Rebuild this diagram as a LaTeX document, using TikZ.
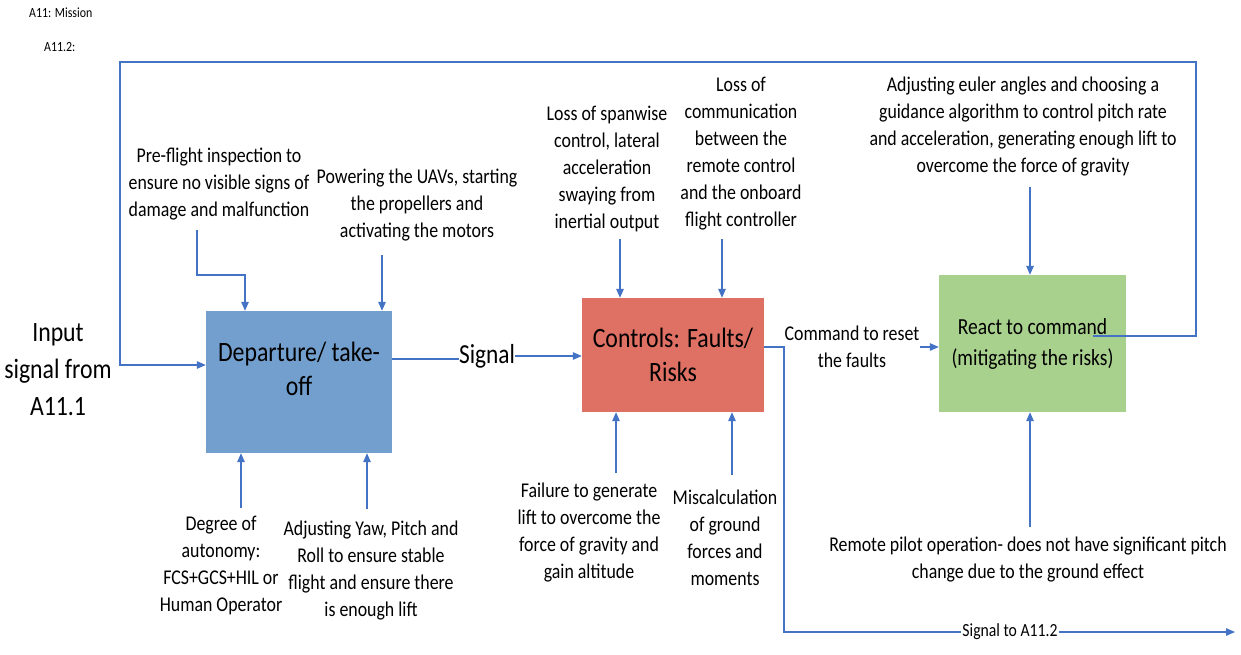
\documentclass[tikz,border=0pt]{standalone}
\usepackage{fontspec}
\setmainfont[FakeStretch=0.85]{Carlito}
\usetikzlibrary{arrows.meta}
\definecolor{linkblue}{RGB}{68,114,196}
\definecolor{depblue}{RGB}{115,159,206}
\definecolor{ctlred}{RGB}{222,112,100}
\definecolor{reactgreen}{RGB}{169,209,142}
\tikzset{
  conn/.style={draw=linkblue, line width=1.3pt},
  arrow/.style={conn, -{Triangle[length=9pt,width=7.5pt]}},
  note/.style={align=center, inner sep=0pt, font=\fontsize{21}{27}\selectfont},
  box/.style={draw=none, inner sep=0pt, align=center, font=\fontsize{28}{34.5}\selectfont},
  bigtext/.style={align=center, inner sep=0pt, font=\fontsize{28}{37}\selectfont},
  tag/.style={anchor=west, inner sep=0pt, font=\fontsize{14}{16}\selectfont}
}
\begin{document}
\begin{tikzpicture}[x=1pt,y=-1pt]
\useasboundingbox (0,0) rectangle (1241,655);

% header tags
\node[tag] (tmission) at (29,13) {A11: Mission};
\node[tag] (tsub) at (44,47) {A11.2:};

% process boxes
\node[box, fill=depblue, minimum width=186, minimum height=142] (dep) at (299,382) {};
\node[box] (deplbl) at (299,369) {Departure/ take-\\off};
\node[box, fill=ctlred, minimum width=182, minimum height=114] (ctl) at (673,355) {Controls: Faults/\\Risks};
\node[box, fill=reactgreen, minimum width=187, minimum height=137, font=\fontsize{23}{31}\selectfont] (rc) at (1032.5,343.5) {React to command\\(mitigating the risks)};

% external input
\node[bigtext] (inp) at (58,370) {Input\\signal from\\A11.1};

% annotations: controls / mechanisms
\node[note] (pf) at (219,184) {Pre-flight inspection to\\ensure no visible signs of\\damage and malfunction};
\node[note] (pw) at (417,205) {Powering the UAVs, starting\\the propellers and\\activating the motors};
\node[note] (deg) at (221,565) {Degree of\\autonomy:\\FCS+GCS+HIL or\\Human Operator};
\node[note] (yaw) at (371,571) {Adjusting Yaw, Pitch and\\Roll to ensure stable\\flight and ensure there\\is enough lift};
\node[note] (span) at (607,169) {Loss of spanwise\\control, lateral\\acceleration\\swaying from\\inertial output};
\node[note] (comm) at (741,153.5) {Loss of\\communication\\between the\\remote control\\and the onboard\\flight controller};
\node[note] (fail) at (589,532.5) {Failure to generate\\lift to overcome the\\force of gravity and\\gain altitude};
\node[note] (misc) at (725,537.5) {Miscalculation\\of ground\\forces and\\moments};
\node[note] (euler) at (1023,126.5) {Adjusting euler angles and choosing a\\guidance algorithm to control pitch rate\\and acceleration, generating enough lift to\\overcome the force of gravity};
\node[note] (pilot) at (1028,560) {Remote pilot operation- does not have significant pitch\\change due to the ground effect};
\node[note] (cmd) at (852,346.5) {Command to reset\\the faults};
\node[inner sep=0pt, font=\fontsize{27.5}{30}\selectfont] (sig) at (487,356) {Signal};
\node[inner sep=1pt, font=\fontsize{18.5}{20}\selectfont, fill=white] (s2) at (1010,632) {Signal to A11.2};

% bend points
\coordinate (fb0) at (1093,336);
\coordinate (fb1) at (1196,336);
\coordinate (fb2) at (1196,62);
\coordinate (fb3) at (120,62);
\coordinate (fb4) at (120,365);
\coordinate (pfa) at (197,230);
\coordinate (pfb) at (245,275);
\coordinate (pwa) at (382,255);
\coordinate (dga) at (241,508);
\coordinate (yaa) at (367,509);
\coordinate (spa) at (620,239);
\coordinate (cma) at (722,239);
\coordinate (fla) at (616,473);
\coordinate (msa) at (732,475);
\coordinate (eua) at (1030,187);
\coordinate (pia) at (1030,527);
\coordinate (out1) at (784,347);
\coordinate (out2) at (784,632);
\coordinate (out3) at (1235,632);
\coordinate (sg1) at (392,359);

% feedback loop from the reaction back to departure
\draw[arrow] (fb0) -- (fb1) -- (fb2) -- (fb3) -- (fb4) -- (fb4 -| dep.west);

% inputs to departure
\draw[arrow] (pfa) |- (pfb) -- (pfb |- dep.north);
\draw[arrow] (pwa) -- (pwa |- dep.north);
\draw[arrow] (dga) -- (dga |- dep.south);
\draw[arrow] (yaa) -- (yaa |- dep.south);

% signal between departure and controls
\draw[conn] (sg1) -- (sig.west |- sg1);
\draw[arrow] (sig.east) -- (sig.east -| ctl.west);

% inputs to controls
\draw[arrow] (spa) -- (spa |- ctl.north);
\draw[arrow] (cma) -- (cma |- ctl.north);
\draw[arrow] (fla) -- (fla |- ctl.south);
\draw[arrow] (msa) -- (msa |- ctl.south);

% command to the reaction block
\draw[arrow] (cmd.east |- out1) -- (rc.west |- out1);

% outgoing signal
\draw[conn] (out1 -| ctl.east) -- (out1) -- (out2) -- (s2.west);
\draw[arrow] (s2.east) -- (out3);

% inputs to the reaction block
\draw[arrow] (eua) -- (eua |- rc.north);
\draw[arrow] (pia) -- (pia |- rc.south);
\end{tikzpicture}
\end{document}
